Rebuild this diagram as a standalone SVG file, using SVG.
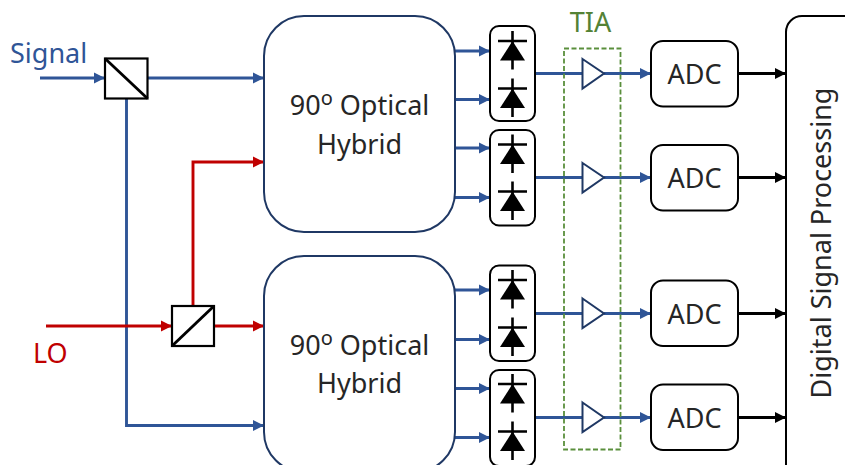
<svg xmlns="http://www.w3.org/2000/svg" width="845" height="465" viewBox="0 0 845 465">
<style>
text{font-family:"Noto Sans","Liberation Sans",sans-serif;font-size:27px;fill:#262626}
.c{text-anchor:middle}
.b,.r,.k{fill:none;stroke-width:2.9}
.b{stroke:#2f5597}.r{stroke:#c00000}.k{stroke:#000}
.hy{fill:#fff;stroke:#1f3864;stroke-width:2}
.pd,.adc,.dsp{fill:#fff;stroke:#000;stroke-width:2}
.sp{fill:#fff;stroke:#000;stroke-width:2.2}
.amp{fill:#fff;stroke:#1f3864;stroke-width:2}
.bar{stroke:#000;stroke-width:2.6;fill:none}
</style>
<defs>
<marker id="ab" markerUnits="userSpaceOnUse" markerWidth="11" markerHeight="12" refX="11" refY="6" orient="auto"><path d="M0 0.500L11 6L0 11.500Z" fill="#2f5597"/></marker>
<marker id="ar" markerUnits="userSpaceOnUse" markerWidth="11" markerHeight="12" refX="11" refY="6" orient="auto"><path d="M0 0.500L11 6L0 11.500Z" fill="#c00000"/></marker>
<marker id="ak" markerUnits="userSpaceOnUse" markerWidth="11" markerHeight="12" refX="11" refY="6" orient="auto"><path d="M0 0.500L11 6L0 11.500Z" fill="#000"/></marker>
<g id="diode"><path d="M-14.5 0H14.5M0-10V28.500" class="bar"/><path d="M0 0L12.500 19.500H-12.500Z" fill="#000"/></g>
</defs>
<g id="connectors">
<path class="b" marker-end="url(#ab)" d="M40 78H105"/>
<path class="b" marker-end="url(#ab)" d="M147 78H264"/>
<path class="b" marker-end="url(#ab)" d="M126.500 98V425.500H264"/>
<path class="r" marker-end="url(#ar)" d="M193 306V162H264"/>
<path class="r" marker-end="url(#ar)" d="M46 326H172"/>
<path class="r" marker-end="url(#ar)" d="M214 326H264"/>
<path class="b" marker-end="url(#ab)" d="M455 51H490"/>
<path class="b" marker-end="url(#ab)" d="M455 99.500H490"/>
<path class="b" marker-end="url(#ab)" d="M455 148H490"/>
<path class="b" marker-end="url(#ab)" d="M455 197.500H490"/>
<path class="b" marker-end="url(#ab)" d="M455 290H490"/>
<path class="b" marker-end="url(#ab)" d="M455 339.500H490"/>
<path class="b" marker-end="url(#ab)" d="M455 388.500H490"/>
<path class="b" marker-end="url(#ab)" d="M455 437.500H490"/>
<path class="b" d="M535 73.500H583"/>
<path class="b" d="M535 177.500H583"/>
<path class="b" d="M535 313.500H583"/>
<path class="b" d="M535 417.500H583"/>
<path class="b" marker-end="url(#ab)" d="M604 73.500H651"/>
<path class="b" marker-end="url(#ab)" d="M604 177.500H651"/>
<path class="b" marker-end="url(#ab)" d="M604 313.500H651"/>
<path class="b" marker-end="url(#ab)" d="M604 417.500H651"/>
<path class="k" marker-end="url(#ak)" d="M738 73.500H786"/>
<path class="k" marker-end="url(#ak)" d="M738 177.500H786"/>
<path class="k" marker-end="url(#ak)" d="M738 313.500H786"/>
<path class="k" marker-end="url(#ak)" d="M738 417.500H786"/>
</g>
<g id="label-signal"><text x="10" y="63" style="fill:#2f5597">Signal</text></g>
<g id="label-lo"><text x="33" y="363" style="fill:#c00000">LO</text></g>
<g id="splitter-signal"><rect class="sp" x="105" y="58.500" width="42.500" height="40"/><path class="k" d="M105 58.500L147.500 98.500"/></g>
<g id="splitter-lo"><rect class="sp" x="172" y="306" width="42" height="40"/><path class="k" d="M172 346L214 306"/></g>
<g id="hybrid-1"><rect class="hy" x="264" y="16" width="191" height="216" rx="40"/>
<text class="c" x="359.500" y="115">90<tspan dy="-10" style="font-size:20px">o</tspan><tspan dy="10"> Optical</tspan></text><text class="c" x="359.500" y="154">Hybrid</text></g>
<g id="hybrid-2"><rect class="hy" x="264" y="256" width="191" height="216" rx="40"/>
<text class="c" x="359.500" y="355">90<tspan dy="-10" style="font-size:20px">o</tspan><tspan dy="10"> Optical</tspan></text><text class="c" x="359.500" y="393">Hybrid</text></g>
<g id="pd-1"><rect class="pd" x="490" y="26" width="45" height="95" rx="9"/><use href="#diode" x="512.500" y="41"/><use href="#diode" x="512.500" y="88.500"/></g>
<g id="pd-2"><rect class="pd" x="490" y="130" width="45" height="95.500" rx="9"/><use href="#diode" x="512.500" y="144.500"/><use href="#diode" x="512.500" y="191.500"/></g>
<g id="pd-3"><rect class="pd" x="490" y="265.500" width="45" height="95.500" rx="9"/><use href="#diode" x="512.500" y="280"/><use href="#diode" x="512.500" y="327.500"/></g>
<g id="pd-4"><rect class="pd" x="490" y="370" width="45" height="96" rx="9"/><use href="#diode" x="512.500" y="384"/><use href="#diode" x="512.500" y="431.500"/></g>
<g id="amp-1"><path class="amp" d="M582.500 59L604 73.500L582.500 88.500Z"/></g>
<g id="amp-2"><path class="amp" d="M582.500 163L604 177.500L582.500 192.500Z"/></g>
<g id="amp-3"><path class="amp" d="M582.500 298.500L604 313.500L582.500 328Z"/></g>
<g id="amp-4"><path class="amp" d="M582.500 402.500L604 417.500L582.500 432Z"/></g>
<g id="tia"><rect x="564" y="48.500" width="56.500" height="401" fill="none" stroke="#5a8f3c" stroke-width="1.800" stroke-dasharray="5 2.500"/><text class="c" x="590.500" y="32" style="fill:#548235">TIA</text></g>
<g id="adc-1"><rect class="adc" x="651" y="41" width="87" height="65.500" rx="12"/><text class="c" x="694.500" y="84">ADC</text></g>
<g id="adc-2"><rect class="adc" x="651" y="145" width="87" height="65.500" rx="12"/><text class="c" x="694.500" y="188">ADC</text></g>
<g id="adc-3"><rect class="adc" x="651" y="280.500" width="87" height="65.500" rx="12"/><text class="c" x="694.500" y="324">ADC</text></g>
<g id="adc-4"><rect class="adc" x="651" y="384.500" width="87" height="65.500" rx="12"/><text class="c" x="694.500" y="428">ADC</text></g>
<g id="dsp"><rect class="dsp" x="786" y="16" width="100" height="470" rx="16"/><text class="c" transform="translate(831 243) rotate(-90)">Digital Signal Processing</text></g>
</svg>
